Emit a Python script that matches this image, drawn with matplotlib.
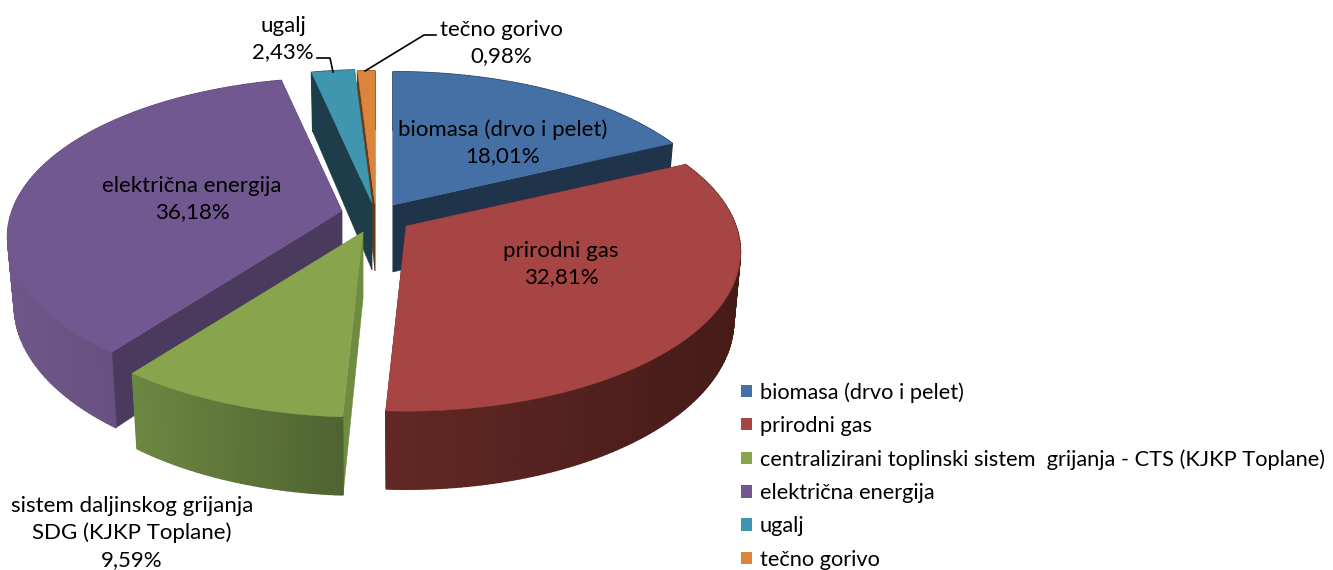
import numpy as np
import matplotlib
matplotlib.use("Agg")
import matplotlib.pyplot as plt
from matplotlib.patches import Patch

plt.rcParams['font.family'] = ['Lato', 'DejaVu Sans']

# data
shares = [18.01, 32.81, 9.59, 36.18, 2.43, 0.98]
legend_names = ['biomasa (drvo i pelet)', 'prirodni gas',
                'centralizirani toplinski sistem  grijanja - CTS (KJKP Toplane)',
                'električna energija', 'ugalj', 'tečno gorivo']
label_names = ['biomasa (drvo i pelet)', 'prirodni gas',
               'sistem daljinskog grijanja\nSDG (KJKP Toplane)',
               'električna energija', 'ugalj', 'tečno gorivo']

top_col = ['#4470a5', '#a64543', '#88a44d', '#725891', '#4096ae', '#da843c']
cut_col = ['#1f344b', '#4a1c1a', '#6f8b40', '#4a3a5e', '#1c3d49', '#6a3a18']
rim_left = ['#1f344b', '#622825', '#6c8742', '#6f5889', '#1c3d49', '#6a3a18']
rim_right = ['#1f344b', '#451b18', '#4f6330', '#584570', '#1c3d49', '#6a3a18']

# tip of each exploded slice, in pixels
tips = [(393, 205), (406, 226), (363, 232), (342, 211), (372, 203), (375, 204)]
label_pos = [(503, 143), (561, 264), (132, 533), (192, 199), (283, 39), (501, 43)]
draw_order = [5, 4, 0, 3, 1, 2]

A, B, K = 330, 155, 0.163
DEPTH = 67


def project(deg):
    t = np.radians(deg)
    u, v = np.sin(t), np.cos(t)
    w = 1 + K * v
    return A * u / w, B * v / w


def hexrgb(c):
    return np.array(matplotlib.colors.to_rgb(c))


fig = plt.figure(figsize=(13.33, 5.70), dpi=100)
ax = fig.add_axes([0, 0, 1, 1])
ax.set_xlim(0, 1333)
ax.set_ylim(570, 0)
ax.axis('off')

edges = np.concatenate([[0], np.cumsum(shares)]) * 3.6

for i in draw_order:
    cx, cy = tips[i]
    deg = np.linspace(edges[i], edges[i + 1], max(int(edges[i + 1] - edges[i]), 6))
    sx, sy = project(deg)
    x_top = cx + sx
    y_top = cy - sy
    x_bot = cx + 0.98 * sx
    y_bot = cy + DEPTH - 1.06 * sy

    # the two radial cut faces
    for k in (0, -1):
        ax.fill([cx, x_top[k], x_bot[k], cx],
                [cy, y_top[k], y_bot[k], cy + DEPTH],
                color=cut_col[i], lw=0.3)

    # outer rim, shaded from left to right
    c1, c2 = hexrgb(rim_left[i]), hexrgb(rim_right[i])
    span = max(x_top.max() - x_top.min(), 1)
    for j in range(len(deg) - 1):
        f = ((x_top[j] + x_top[j + 1]) / 2 - x_top.min()) / span
        col = c1 + (c2 - c1) * f
        ax.fill([x_top[j], x_top[j + 1], x_bot[j + 1], x_bot[j]],
                [y_top[j], y_top[j + 1], y_bot[j + 1], y_bot[j]],
                color=col, lw=1.0)

    # top face
    ax.fill(np.r_[cx, x_top], np.r_[cy, y_top], color=top_col[i], lw=0.3)

for i, name in enumerate(label_names):
    pct = f'{shares[i]:.2f}%'.replace('.', ',')
    ax.text(label_pos[i][0], label_pos[i][1], name + '\n' + pct, ha='center', va='center',
            fontsize=16.0, color='black', linespacing=1.4, zorder=10)

# leader lines
ax.plot([317, 330, 333], [58, 58, 72], color='black', lw=1.2, zorder=10)
ax.plot([436, 424, 365], [35, 35, 71], color='black', lw=1.2, zorder=10)

handles = [Patch(facecolor=c, edgecolor='none') for c in top_col]
ax.legend(handles, legend_names, loc='upper left', bbox_to_anchor=(741 / 1333, 1 - 382 / 570),
          frameon=False, fontsize=15.7, handlelength=0.5, handleheight=0.5, handletextpad=0.36,
          labelspacing=0.61, borderpad=0, borderaxespad=0)

fig.savefig('out.png', dpi=100)
